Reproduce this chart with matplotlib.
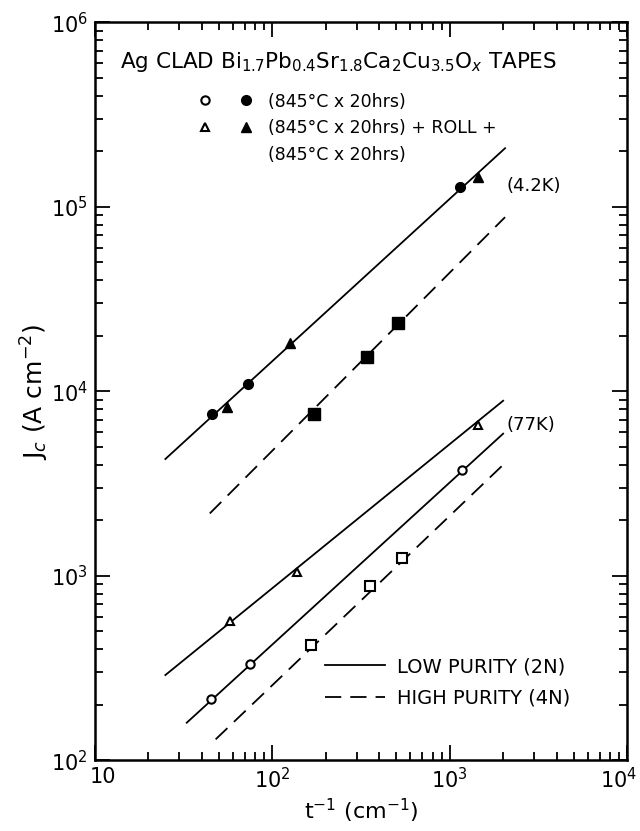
import numpy as np
import matplotlib
matplotlib.use('Agg')
import matplotlib.pyplot as plt
import matplotlib.transforms as mtransforms
from matplotlib.lines import Line2D
from matplotlib.legend_handler import HandlerTuple
from matplotlib.ticker import LogLocator, NullFormatter

plt.rcParams['font.family'] = ['DejaVu Sans']
plt.rcParams['mathtext.fontset'] = 'dejavusans'

# ---- 4.2 K data (filled symbols) ----
k42_circ_x = [45.7, 73, 1145]
k42_circ_y = [7500, 10900, 129000]
k42_tri_x = [55.6, 126, 1445]
k42_tri_y = [8200, 18200, 146000]
k42_sq_x = [172, 342, 512]
k42_sq_y = [7500, 15300, 23400]

# ---- 77 K data (open symbols) ----
k77_tri_x = [57.7, 138, 1445]
k77_tri_y = [567, 1045, 6540]
k77_circ_x = [45, 75, 1175]
k77_circ_y = [215, 332, 3730]
k77_sq_x = [165, 356, 539]
k77_sq_y = [420, 880, 1250]

# ---- hand drawn fit lines (end points) ----
fit42_low_x = [25, 2050]
fit42_low_y = [4300, 208000]
fit42_high_x = [44.5, 2050]
fit42_high_y = [2180, 88000]
fit77_tri_x = [25, 2000]
fit77_tri_y = [290, 8900]
fit77_circ_x = [33, 2000]
fit77_circ_y = [160, 5900]
fit77_high_x = [48, 2000]
fit77_high_y = [130, 4000]

xtick_vals = [10, 100, 1000, 10000]
xtick_labels = ['10', '$10^2$', '$10^3$', '$10^4$']
ytick_vals = [1e2, 1e3, 1e4, 1e5, 1e6]
ytick_labels = ['$10^2$', '$10^3$', '$10^4$', '$10^5$', '$10^6$']

fig = plt.figure(figsize=(6.4, 8.31), dpi=100)
ax = fig.add_axes([0.148, 0.085, 0.832, 0.888])
ax.set_xscale('log')
ax.set_yscale('log')
ax.set_xlim(10, 1e4)
ax.set_ylim(1e2, 1e6)

lw = 1.3
dash = (9, 5)
# fit lines
ax.plot(fit42_low_x, fit42_low_y, color='k', lw=lw)
ax.plot(fit42_high_x, fit42_high_y, color='k', lw=lw, dashes=dash)
ax.plot(fit77_tri_x, fit77_tri_y, color='k', lw=lw)
ax.plot(fit77_circ_x, fit77_circ_y, color='k', lw=lw)
ax.plot(fit77_high_x, fit77_high_y, color='k', lw=lw, dashes=dash)

# 4.2K points
ax.plot(k42_circ_x, k42_circ_y, 'o', color='k', ms=7, zorder=3)
ax.plot(k42_tri_x, k42_tri_y, '^', color='k', ms=7, zorder=3)
ax.plot(k42_sq_x, k42_sq_y, 's', color='k', ms=8, zorder=3)
# 77K points
ax.plot(k77_tri_x, k77_tri_y, '^', mfc='white', mec='k', mew=1.5, ms=6, zorder=3)
ax.plot(k77_circ_x, k77_circ_y, 'o', mfc='white', mec='k', mew=1.5, ms=6, zorder=3)
ax.plot(k77_sq_x, k77_sq_y, 's', mfc='white', mec='k', mew=1.5, ms=7, zorder=3)

ax.text(2100, 1.3e5, '(4.2K)', fontsize=13, va='center', ha='left')
ax.text(2100, 6.6e3, '(77K)', fontsize=13, va='center', ha='left')

# ticks
ax.set_xticks(xtick_vals)
ax.set_xticklabels(xtick_labels, fontsize=15)
ax.set_yticks(ytick_vals)
ax.set_yticklabels(ytick_labels, fontsize=15)
ax.xaxis.set_minor_locator(LogLocator(base=10, subs=np.arange(2, 10)))
ax.yaxis.set_minor_locator(LogLocator(base=10, subs=np.arange(2, 10)))
ax.xaxis.set_minor_formatter(NullFormatter())
ax.yaxis.set_minor_formatter(NullFormatter())
ax.tick_params(which='both', direction='in', top=True, right=True, width=1.3)
ax.tick_params(which='major', length=11, pad=5)
ax.tick_params(which='minor', length=6)
for sp in ax.spines.values():
    sp.set_linewidth(1.8)

# pull the first and last x labels inside the figure a little
xl = ax.get_xticklabels()
xl[0].set_transform(xl[0].get_transform() +
                    mtransforms.ScaledTranslation(8 / 100, 0, fig.dpi_scale_trans))
xl[-1].set_transform(xl[-1].get_transform() +
                     mtransforms.ScaledTranslation(-9 / 100, 0, fig.dpi_scale_trans))

ax.set_xlabel('t$^{-1}$ (cm$^{-1}$)', fontsize=16, labelpad=3)
ax.set_ylabel('J$_c$ (A cm$^{-2}$)', fontsize=18, labelpad=0)

# header text + symbol key
ax.text(0.047, 0.946,
        'Ag CLAD Bi$_{1.7}$Pb$_{0.4}$Sr$_{1.8}$Ca$_2$Cu$_{3.5}$O$_x$ TAPES',
        transform=ax.transAxes, fontsize=15.5, va='center', ha='left')

oc = Line2D([], [], marker='o', ls='none', mfc='white', mec='k', mew=1.5, ms=6)
fc = Line2D([], [], marker='o', ls='none', color='k', ms=7)
ot = Line2D([], [], marker='^', ls='none', mfc='white', mec='k', mew=1.5, ms=6)
ft = Line2D([], [], marker='^', ls='none', color='k', ms=7)
blank = Line2D([], [], ls='none')
leg1 = ax.legend([(oc, fc), (ot, ft), blank],
                 ['(845°C x 20hrs)', '(845°C x 20hrs) + ROLL +', '(845°C x 20hrs)'],
                 handler_map={tuple: HandlerTuple(ndivide=None, pad=0.8)},
                 loc='upper left', bbox_to_anchor=(0.182, 0.905),
                 frameon=False, fontsize=12.5, handlelength=3.9, handletextpad=0.5,
                 labelspacing=0.5, borderpad=0, borderaxespad=0)
ax.add_artist(leg1)

low = Line2D([], [], color='k', lw=lw)
high = Line2D([], [], color='k', lw=lw, dashes=dash)
ax.legend([low, high], ['LOW PURITY (2N)', 'HIGH PURITY (4N)'],
          loc='upper left', bbox_to_anchor=(0.432, 0.14),
          frameon=False, fontsize=14, handlelength=3.1, handletextpad=0.6,
          labelspacing=0.65, borderpad=0, borderaxespad=0)

fig.savefig('out.png', dpi=100)
